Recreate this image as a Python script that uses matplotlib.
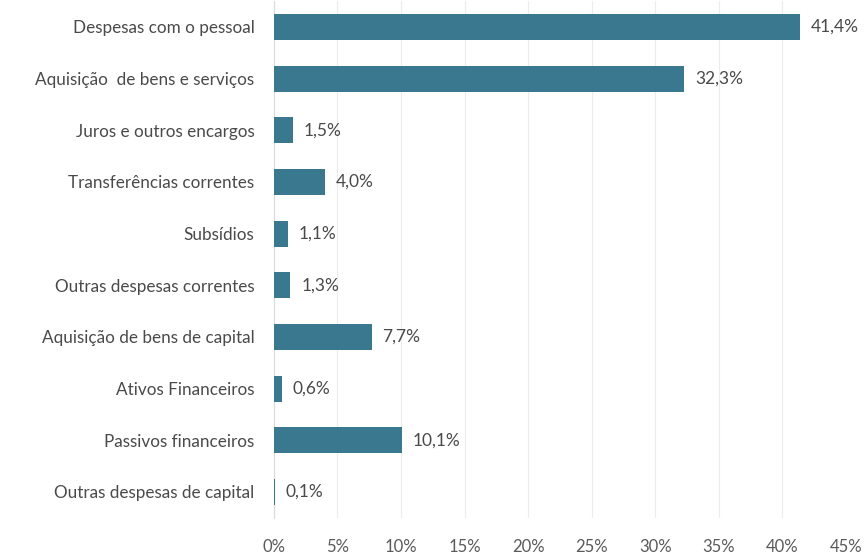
import matplotlib
matplotlib.use("Agg")
import matplotlib.pyplot as plt
from matplotlib.ticker import FuncFormatter, MultipleLocator

categories = [
    "Despesas com o pessoal",
    "Aquisição  de bens e serviços",
    "Juros e outros encargos",
    "Transferências correntes",
    "Subsídios",
    "Outras despesas correntes",
    "Aquisição de bens de capital",
    "Ativos Financeiros",
    "Passivos financeiros",
    "Outras despesas de capital",
]
values = [41.4, 32.3, 1.5, 4.0, 1.1, 1.3, 7.7, 0.6, 10.1, 0.1]
value_labels = ["41,4%", "32,3%", "1,5%", "4,0%", "1,1%", "1,3%", "7,7%", "0,6%", "10,1%", "0,1%"]

plt.rcParams['font.family'] = ['Lato', 'DejaVu Sans']
text_color = "#4a4a4a"
bar_color = "#3a7890"

fig = plt.figure(figsize=(8.64, 5.55), dpi=100)
fig.patch.set_facecolor("white")
ax = fig.add_axes([0.317, 0.067, 0.662, 0.931])

ypos = list(range(len(categories)))
ax.barh(ypos, values, height=0.5, color=bar_color, zorder=3)
for y, v, lab in zip(ypos, values, value_labels):
    ax.text(v + 0.85, y, lab, va="center", ha="left", fontsize=12.5, color=text_color)

ax.set_xlim(0, 45)
ax.set_ylim(len(categories) - 0.5, -0.5)
ax.set_yticks(ypos)
ax.set_yticklabels(categories, fontsize=12.3, color=text_color)
ax.xaxis.set_major_locator(MultipleLocator(5))
ax.xaxis.set_major_formatter(FuncFormatter(lambda x, p: f"{int(round(x))}%"))
ax.tick_params(axis="x", labelsize=12, labelcolor="#5a5a5a", length=0, pad=15)
ax.tick_params(axis="y", length=0, pad=14)
ax.grid(axis="x", color="#ececec", linewidth=0.8, zorder=0)
for s in ["top", "right", "bottom"]:
    ax.spines[s].set_visible(False)
ax.spines["left"].set_color("#d9d9d9")
ax.spines["left"].set_linewidth(0.8)

fig.savefig("out.png", dpi=100)
